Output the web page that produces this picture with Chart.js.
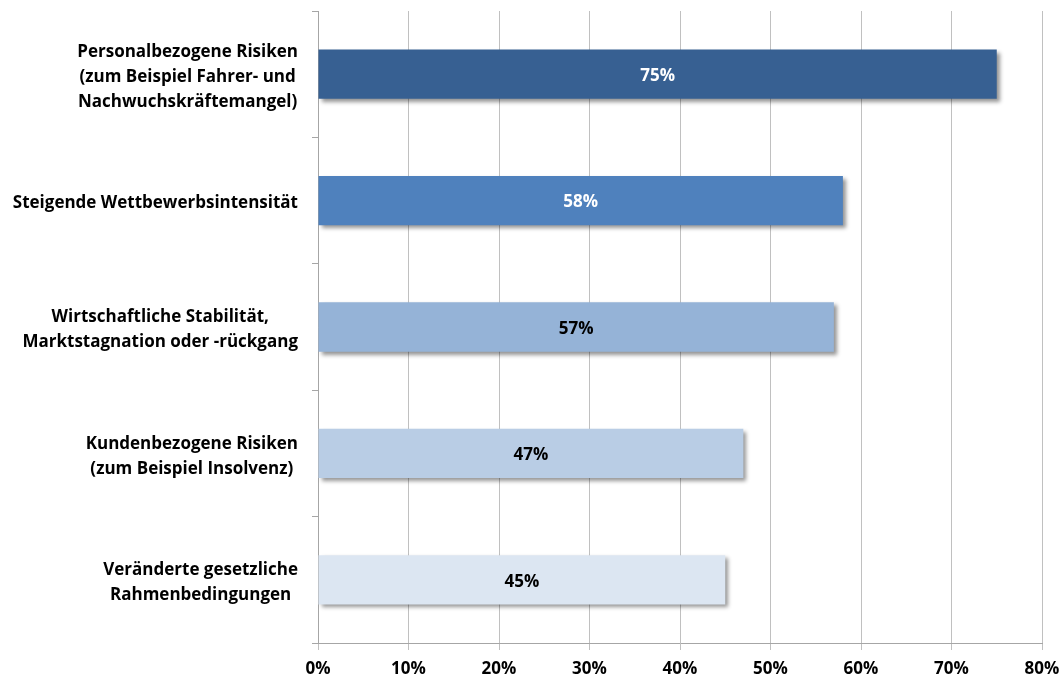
<!DOCTYPE html>
<html lang="de">
<head>
<meta charset="utf-8">
<script src="https://cdn.jsdelivr.net/npm/chart.js@4"></script>
<style>
  html, body { margin: 0; padding: 0; background: #fff; }
  #wrap { width: 1064px; height: 682px; position: relative; }
</style>
</head>
<body>
<div id="wrap"><canvas id="risks"></canvas></div>
<script>
// Risiken: Anteil der Nennungen in %
const categories = [
  ['Personalbezogene Risiken', '(zum Beispiel Fahrer- und', 'Nachwuchskräftemangel)'],
  ['Steigende Wettbewerbsintensität'],
  ['Wirtschaftliche Stabilität,', 'Marktstagnation oder -rückgang'],
  ['Kundenbezogene Risiken', '(zum Beispiel Insolvenz)'],
  ['Veränderte gesetzliche', 'Rahmenbedingungen']
];
const shares = [75, 58, 57, 47, 45];
const barColors = ['#376092', '#4f81bd', '#95b3d7', '#b9cde5', '#dce6f2'];
const valueLabelColors = ['#ffffff', '#ffffff', '#000000', '#000000', '#000000'];
const xMax = 80;
const xStep = 10;

const FONT = "'Open Sans', Lato, sans-serif";
const FONT_SIZE = 17;
const LINE_GAP = 25;

// soft drop shadow under the bars
const barShadow = {
  id: 'barShadow',
  beforeDatasetsDraw(chart) {
    const ctx = chart.ctx;
    ctx.save();
    ctx.shadowColor = 'rgba(0,0,0,0.42)';
    ctx.shadowBlur = 4;
    ctx.shadowOffsetX = 3;
    ctx.shadowOffsetY = 3;
  },
  afterDatasetsDraw(chart) {
    chart.ctx.restore();
  }
};

// percentage in the middle of each bar
const valueLabels = {
  id: 'valueLabels',
  afterDatasetsDraw(chart) {
    const ctx = chart.ctx;
    const meta = chart.getDatasetMeta(0);
    ctx.save();
    ctx.font = `bold ${FONT_SIZE}px ${FONT}`;
    ctx.textAlign = 'center';
    ctx.textBaseline = 'middle';
    meta.data.forEach((bar, i) => {
      ctx.fillStyle = valueLabelColors[i];
      ctx.fillText(shares[i] + '%', (bar.x + bar.base) / 2, bar.y + 2);
    });
    ctx.restore();
  }
};

// category text: block right-aligned at the axis, lines centred inside the block
const categoryLabels = {
  id: 'categoryLabels',
  afterDraw(chart) {
    const ctx = chart.ctx;
    const yScale = chart.scales.y;
    const right = yScale.right - 20;
    ctx.save();
    ctx.font = `bold ${FONT_SIZE}px ${FONT}`;
    ctx.fillStyle = '#000000';
    ctx.textAlign = 'center';
    ctx.textBaseline = 'middle';
    categories.forEach((lines, i) => {
      const y = yScale.getPixelForValue(i);
      const w = Math.max(...lines.map(l => ctx.measureText(l).width));
      const cx = right - w / 2;
      const top = y - (lines.length - 1) * LINE_GAP / 2;
      lines.forEach((line, j) => ctx.fillText(line, cx, top + j * LINE_GAP + 3));
    });
    ctx.restore();
  }
};

new Chart(document.getElementById('risks'), {
  type: 'bar',
  data: {
    labels: categories.map(c => c.join(' ')),
    datasets: [{
      data: shares,
      backgroundColor: barColors,
      borderWidth: 0,
      barPercentage: 0.39,
      categoryPercentage: 1.0
    }]
  },
  options: {
    indexAxis: 'y',
    responsive: true,
    maintainAspectRatio: false,
    animation: false,
    layout: { padding: { top: 11, right: 22, bottom: 0, left: 0 } },
    plugins: {
      legend: { display: false },
      tooltip: { enabled: false }
    },
    scales: {
      x: {
        type: 'linear',
        min: 0,
        max: xMax,
        afterFit: s => {
          s.height = 39;
          s.paddingLeft = 0;
          s.paddingRight = 0;
        },
        ticks: {
          stepSize: xStep,
          callback: v => v + '%',
          color: '#000000',
          font: { family: FONT, size: FONT_SIZE, weight: 'bold' },
          padding: 9,
          maxRotation: 0
        },
        grid: { color: '#c0c0c0', lineWidth: 1, tickLength: 7 },
        border: { color: '#a6a6a6' }
      },
      y: {
        type: 'category',
        afterFit: s => { s.width = 318; },
        ticks: { display: false },
        grid: { drawOnChartArea: false, tickLength: 6, color: '#a6a6a6', offset: true },
        border: { color: '#a6a6a6' }
      }
    }
  },
  plugins: [barShadow, valueLabels, categoryLabels]
});
</script>
</body>
</html>
